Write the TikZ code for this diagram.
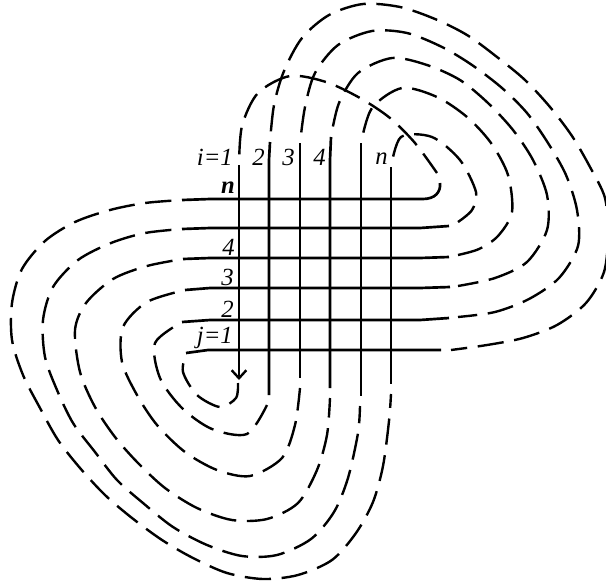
\documentclass[tikz,border=0pt]{standalone}
\usepackage{fontspec}
\setmainfont{Liberation Serif}
\usetikzlibrary{arrows.meta}

\begin{document}
\begin{tikzpicture}[
  x=0.75pt, y=-0.75pt,
  wire/.style={line width=2pt},
  strand/.style={line width=1.8pt, dash pattern=on #1 off 8pt, dash phase=#1},
  strand/.default=19.7pt,
  lbl/.style={inner sep=0pt, anchor=base east, font=\itshape\fontsize{18.5}{20}\selectfont},
  arr/.style={-{Straight Barb[length=6pt, width=11pt, line width=1.8pt]}}
]
\useasboundingbox (0,0) rectangle (606,586);
\clip (0,0) rectangle (606,586);
% ends of the vertical wires
\coordinate (v1t) at (239,165);
\coordinate (v2t) at (270,142);
\coordinate (v3t) at (300,143);
\coordinate (v4t) at (331,137);
\coordinate (v5t) at (361,143);
\coordinate (v6t) at (391,167);
\coordinate (v1b) at (239,380);
\coordinate (v2b) at (269,395);
\coordinate (v3b) at (300,378);
\coordinate (v4b) at (330,388);
\coordinate (v5b) at (361,396);
\coordinate (v6b) at (391,384);
% ends of the horizontal wires
\coordinate (h1l) at (186,353);
\coordinate (h2l) at (182,322);
\coordinate (h3l) at (185,290);
\coordinate (h4l) at (183,259);
\coordinate (h5l) at (182,229);
\coordinate (h6l) at (182,200);
\coordinate (h1r) at (441,350);
\coordinate (h2r) at (449,318);
\coordinate (h3r) at (450,287);
\coordinate (h4r) at (449,257);
\coordinate (h5r) at (449,226);
\coordinate (h6r) at (440,183);
% last dash of each strand, one gap short of its wire
\coordinate (e1r) at (451,350);
\coordinate (e2r) at (458,317);
\coordinate (e3r) at (458,286);
\coordinate (e4r) at (458,255);
\coordinate (e5r) at (458,222);
\coordinate (e6r) at (437,173);
\coordinate (e1b) at (238,383);
\coordinate (e2b) at (267,405);
\coordinate (e3b) at (300,388);
\coordinate (e4b) at (330,398);
\coordinate (e5b) at (360,406);
\coordinate (e6b) at (391,394);

\draw[wire, arr] (v1t) -- (v1b);
\draw[wire] (v2t) -- (269,160) -- (v2b);
\draw[wire] (v3t) -- (v3b);
\draw[wire] (v4t) -- (330,160) -- (v4b);
\draw[wire] (v5t) -- (v5b);
\draw[wire] (v6t) -- (v6b);
\draw[wire] (h1r) -- (208,350) -- (h1l);
\draw[wire] (h2r) -- (420,320) -- (210,320) -- (h2l);
\draw[wire] (h3r) -- (420,288) -- (210,288) -- (h3l);
\draw[wire] (h4r) -- (420,258) -- (210,258) -- (h4l);
\draw[wire] (h5r) -- (420,228) -- (210,228) -- (h5l);
\draw[wire] (h6r) .. controls (441,192) and (435,199) .. (423,199) -- (210,199) -- (h6l);

% over the top, to the right ends
\draw[strand=20pt] plot[smooth] coordinates {(v1t) (242,126) (258,93) (290,76) (326,82) (360,98) (390,118) (415,143) (e6r)};
\draw[strand=18.2pt] plot[smooth] coordinates {(v6t) (401,137) (432,137) (460,160) (476,192) (472,210) (e5r)};
\draw[strand=19.4pt] plot[smooth] coordinates {(v5t) (372,108) (402,88) (437,97) (467,117) (491,143) (508,175) (512,212) (498,236) (479,249) (e4r)};
\draw[strand] plot[smooth] coordinates {(v4t) (339,103) (358,73) (392,58) (427,65) (460,80) (488,103) (513,130) (533,160) (547,195) (547,230) (527,262) (495,278) (e3r)};
\draw[strand] plot[smooth] coordinates {(v3t) (305,107) (315,73) (338,45) (372,31) (407,33) (442,47) (472,65) (502,88) (527,113) (548,143) (566,175) (577,210) (578,246) (559,278) (529,299) (495,312) (e2r)};
\draw[strand] plot[smooth] coordinates {(v2t) (274,105) (284,71) (302,38) (329,15) (363,4) (400,7) (435,19) (467,35) (497,57) (525,80) (550,107) (572,136) (590,167) (605,198) (608,235) (604,272) (586,303) (557,325) (523,338) (487,345) (e1r)};

% round the bottom, to the lower ends
\draw[strand=19.1pt] plot[smooth] coordinates {(h1l) (183,372) (197,395) (220,407) (236,398) (e1b)};
\draw[strand=19.4pt] plot[smooth] coordinates {(h2l) (155,343) (160,378) (182,408) (212,429) (247,434) (e2b)};
\draw[strand] plot[smooth] coordinates {(h3l) (147,302) (123,327) (122,362) (137,395) (157,425) (185,452) (217,470) (250,476) (282,458) (295,425) (e3b)};
\draw[strand] plot[smooth] coordinates {(h4l) (147,266) (113,279) (86,303) (75,330) (80,372) (95,407) (115,437) (138,463) (165,488) (197,508) (232,520) (267,519) (298,503) (317,470) (327,435) (e4b)};
\draw[strand] plot[smooth] coordinates {(h5l) (145,233) (111,243) (78,260) (53,287) (43,320) (45,357) (57,390) (73,423) (95,452) (117,480) (143,503) (173,527) (207,545) (242,556) (277,555) (311,539) (334,512) (348,478) (358,433) (e5b)};
\draw[strand] plot[smooth] coordinates {(h6l) (145,203) (110,210) (75,222) (45,241) (22,269) (12,303) (12,340) (23,375) (40,408) (58,440) (80,468) (105,495) (132,518) (162,540) (193,558) (227,573) (263,579) (298,575) (332,560) (356,533) (373,502) (383,466) (389,421) (e6b)};

\node[lbl] (ci1) at (233,165) {i=1};
\node[lbl] (ci2) at (265,165) {2};
\node[lbl] (ci3) at (295,165) {3};
\node[lbl] (ci4) at (326,165) {4};
\node[lbl] (cin) at (388,164) {n};
\node[lbl, font=\bfseries\itshape\fontsize{18.5}{20}\selectfont] (rjn) at (235,193) {n};
\node[lbl] (rj4) at (235,255) {4};
\node[lbl] (rj3) at (234,285) {3};
\node[lbl] (rj2) at (234,317) {2};
\node[lbl] (rj1) at (233,343) {j=1};
\end{tikzpicture}
\end{document}
